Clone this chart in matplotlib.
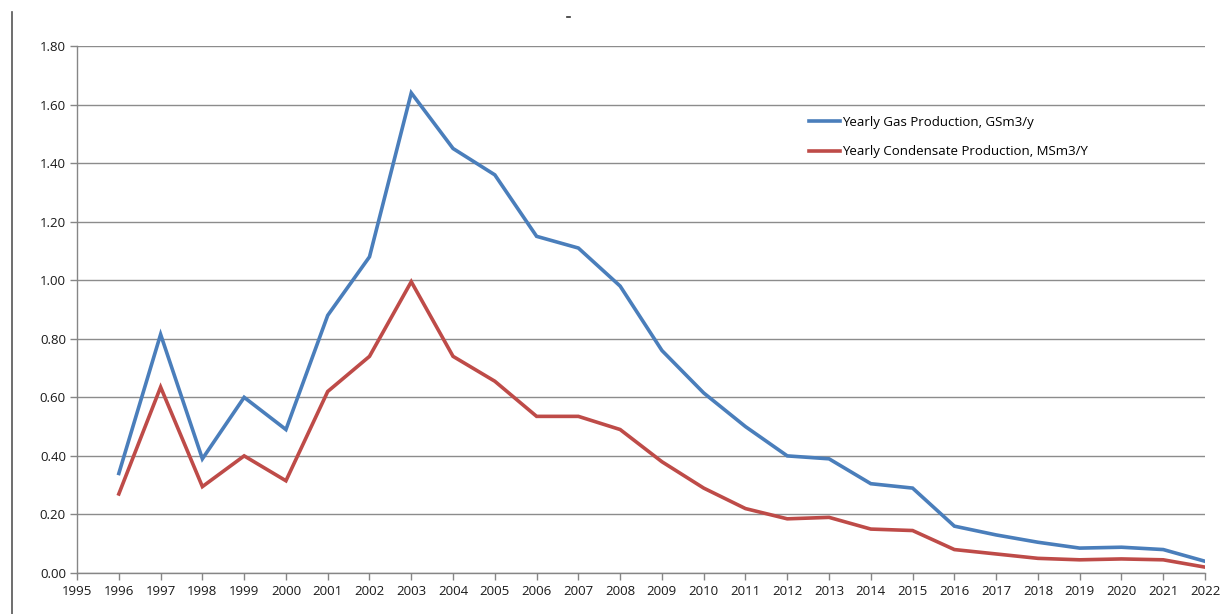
import matplotlib
matplotlib.use('Agg')
from matplotlib import pyplot as plt
from matplotlib.lines import Line2D

years = list(range(1996, 2023))
gas = [0.34, 0.815, 0.39, 0.60, 0.49, 0.88, 1.08, 1.64, 1.45, 1.36, 1.15, 1.11, 0.98,
       0.76, 0.615, 0.50, 0.40, 0.39, 0.305, 0.29, 0.16, 0.13, 0.105, 0.085, 0.088, 0.08, 0.04]
cond = [0.27, 0.635, 0.295, 0.40, 0.315, 0.62, 0.74, 0.995, 0.74, 0.655, 0.535, 0.535, 0.49,
        0.38, 0.29, 0.22, 0.185, 0.19, 0.15, 0.145, 0.08, 0.065, 0.05, 0.045, 0.048, 0.045, 0.02]
gas_label = 'Yearly Gas Production, GSm3/y'
cond_label = 'Yearly Condensate Production, MSm3/Y'

plt.rcParams['font.family'] = ['Open Sans', 'DejaVu Sans']

fig = plt.figure(figsize=(12.25, 6.14), dpi=100)
ax = fig.add_axes([0.0629, 0.0668, 0.9208, 0.8582])

ax.plot(years, gas, color='#4a7ebb', lw=2.6, solid_joinstyle='miter', label=gas_label)
ax.plot(years, cond, color='#be4b48', lw=2.6, solid_joinstyle='miter', label=cond_label)

ax.set_xlim(1995, 2022)
ax.set_ylim(0, 1.8)
ax.set_xticks(range(1995, 2023))
ax.set_yticks([i * 0.2 for i in range(10)])
ax.set_yticklabels(['%.2f' % (i * 0.2) for i in range(10)])
ax.tick_params(axis='both', labelsize=9.5, colors='#868686', labelcolor='#1a1a1a', length=5, width=1)
ax.tick_params(axis='y', pad=3)
ax.yaxis.grid(True, color='#8c8c8c', lw=1)
ax.set_axisbelow(True)
for s in ['top', 'right']:
    ax.spines[s].set_visible(False)
for s in ['left', 'bottom']:
    ax.spines[s].set_color('#868686')
    ax.spines[s].set_linewidth(1)

ax.legend(loc='upper left', bbox_to_anchor=(0.638, 0.89), frameon=False, fontsize=9.5,
          handlelength=2.4, handletextpad=0.1, labelspacing=1.25)

# frame edge on the far left and stray mark at top
fig.add_artist(Line2D([0.01, 0.01], [0.0, 0.98], color='#555555', lw=1.2))
fig.add_artist(Line2D([0.4625, 0.4655], [0.972, 0.972], color='#333333', lw=1.2))

fig.savefig('out.png', dpi=100)
